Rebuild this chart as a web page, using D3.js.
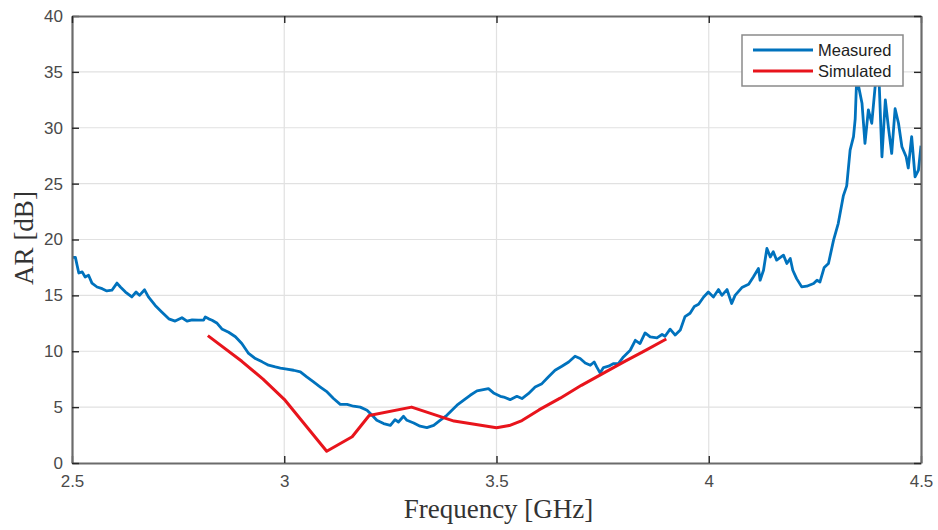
<!DOCTYPE html>
<html>
<head>
<meta charset="utf-8">
<script src="https://cdn.jsdelivr.net/npm/d3@7"></script>
<style>
  html, body { margin: 0; padding: 0; background: #fff; }
  svg { display: block; }
</style>
</head>
<body>
<svg id="chart" width="938" height="530"></svg>
<script>
// Axial ratio of the antenna versus frequency

// Measured AR: frequency (GHz) and AR (dB)
const measuredFreq = [
  2.501, 2.508, 2.512, 2.516, 2.524, 2.531, 2.539, 2.547, 2.559, 2.571,
  2.582, 2.594, 2.606, 2.614, 2.626, 2.641, 2.651, 2.659, 2.671, 2.680,
  2.696, 2.712, 2.728, 2.743, 2.759, 2.771, 2.783, 2.798, 2.810, 2.814,
  2.822, 2.830, 2.842, 2.853, 2.869, 2.885, 2.900, 2.916, 2.932, 2.948,
  2.963, 2.979, 2.991, 3.006, 3.022, 3.038, 3.053, 3.069, 3.085, 3.101,
  3.116, 3.132, 3.148, 3.163, 3.179, 3.195, 3.207, 3.218, 3.234, 3.250,
  3.261, 3.269, 3.281, 3.289, 3.305, 3.320, 3.336, 3.352, 3.367, 3.383,
  3.395, 3.407, 3.422, 3.438, 3.454, 3.469, 3.481, 3.493, 3.509, 3.517,
  3.532, 3.548, 3.560, 3.575, 3.591, 3.607, 3.622, 3.638, 3.654, 3.670,
  3.685, 3.697, 3.709, 3.721, 3.730, 3.736, 3.744, 3.752, 3.764, 3.776,
  3.787, 3.799, 3.815, 3.827, 3.838, 3.850, 3.862, 3.878, 3.890, 3.897,
  3.909, 3.921, 3.933, 3.944, 3.956, 3.966, 3.976, 3.988, 3.999, 4.011,
  4.023, 4.031, 4.043, 4.054, 4.062, 4.078, 4.094, 4.105, 4.117, 4.121,
  4.129, 4.137, 4.145, 4.152, 4.160, 4.176, 4.184, 4.192, 4.198, 4.207,
  4.219, 4.231, 4.247, 4.255, 4.262, 4.272, 4.282, 4.294, 4.305, 4.317,
  4.325, 4.333, 4.341, 4.345, 4.350, 4.353, 4.361, 4.368, 4.376, 4.384,
  4.392, 4.400, 4.408, 4.416, 4.423, 4.431, 4.439, 4.447, 4.455, 4.465,
  4.470, 4.478, 4.486, 4.494, 4.500
];
const measuredAR = [
  18.4, 18.4, 17.7, 17.0, 17.1, 16.65, 16.8, 16.1, 15.75, 15.6,
  15.4, 15.46, 16.1, 15.75, 15.3, 14.86, 15.3, 15.0, 15.5, 14.86,
  14.1, 13.5, 12.9, 12.7, 13.0, 12.7, 12.8, 12.78, 12.78, 13.07,
  12.9, 12.78, 12.5, 12.0, 11.7, 11.3, 10.7, 9.8, 9.35, 9.05,
  8.75, 8.6, 8.5, 8.4, 8.3, 8.15, 7.7, 7.25, 6.8, 6.36,
  5.77, 5.25, 5.25, 5.08, 5.0, 4.72, 4.27, 3.82, 3.53, 3.37,
  3.88, 3.67, 4.18, 3.82, 3.58, 3.29, 3.17, 3.37, 3.82, 4.27,
  4.72, 5.17, 5.61, 6.06, 6.45, 6.57, 6.66, 6.27, 5.97, 5.9,
  5.67, 5.97, 5.77, 6.2, 6.8, 7.1, 7.7, 8.3, 8.66, 9.04,
  9.55, 9.35, 8.95, 8.75, 9.04, 8.6, 8.06, 8.54, 8.66, 8.9,
  8.9, 9.49, 10.09, 10.98, 10.69, 11.64, 11.28, 11.2, 11.5, 11.34,
  11.98, 11.45, 11.9, 13.1, 13.4, 14.0, 14.2, 14.86, 15.3, 14.86,
  15.52, 15.0, 15.52, 14.27, 15.0, 15.7, 16.0, 16.65, 17.4, 16.36,
  17.25, 19.2, 18.44, 18.9, 18.15, 18.6, 17.85, 18.3, 17.25, 16.5,
  15.76, 15.82, 16.06, 16.36, 16.2, 17.5, 17.85, 19.94, 21.43, 23.9,
  24.8, 28.0, 29.2, 30.8, 36.0, 33.7, 32.2, 28.6, 31.6, 30.4,
  33.7, 35.5, 27.4, 32.5, 30.1, 27.7, 31.7, 30.4, 28.3, 27.4,
  26.4, 29.2, 25.6, 26.2, 28.4
];

// Simulated AR: frequency (GHz) and AR (dB)
const simulatedFreq = [2.82, 2.9, 2.95, 3.0, 3.1, 3.16, 3.2, 3.3, 3.4, 3.5, 3.53, 3.56, 3.6, 3.65, 3.7, 3.75, 3.8, 3.85, 3.9];
const simulatedAR   = [11.4, 9.1, 7.5, 5.7, 1.05, 2.35, 4.25, 5.0, 3.75, 3.15, 3.35, 3.8, 4.75, 5.8, 6.95, 8.0, 9.05, 10.05, 11.1];

// Axis ticks and labels
const xTicks = [2.5, 3, 3.5, 4, 4.5];
const yTicks = [0, 5, 10, 15, 20, 25, 30, 35, 40];
const xLabel = "Frequency [GHz]";
const yLabel = "AR [dB]";
const seriesNames = ["Measured", "Simulated"];
const seriesColors = ["#0072BD", "#E8141C"];

const margin = { left: 72, right: 17, top: 16, bottom: 67 };
const W = 938, H = 530;
const iw = W - margin.left - margin.right;
const ih = H - margin.top - margin.bottom;

const svg = d3.select("#chart");
const g = svg.append("g").attr("transform", `translate(${margin.left},${margin.top})`);

const x = d3.scaleLinear().domain([2.5, 4.5]).range([0, iw]);
const y = d3.scaleLinear().domain([0, 40]).range([ih, 0]);

// grid
g.append("g").selectAll("line.gx").data(xTicks.slice(1, -1)).join("line")
  .attr("x1", d => x(d)).attr("x2", d => x(d)).attr("y1", 0).attr("y2", ih)
  .attr("stroke", "#e1e1e1").attr("stroke-width", 1.2);
g.append("g").selectAll("line.gy").data(yTicks.slice(1, -1)).join("line")
  .attr("y1", d => y(d)).attr("y2", d => y(d)).attr("x1", 0).attr("x2", iw)
  .attr("stroke", "#e1e1e1").attr("stroke-width", 1.2);

// clip region for the data lines
svg.append("defs").append("clipPath").attr("id", "plotclip")
  .append("rect").attr("x", 0).attr("y", 0).attr("width", iw).attr("height", ih);

const line = d3.line().x(d => x(d[0])).y(d => y(d[1]));
const measured = measuredFreq.map((f, i) => [f, measuredAR[i]]);
const simulated = simulatedFreq.map((f, i) => [f, simulatedAR[i]]);

const plot = g.append("g").attr("clip-path", "url(#plotclip)");
plot.append("path").datum(measured).attr("d", line)
  .attr("fill", "none").attr("stroke", seriesColors[0]).attr("stroke-width", 2.8)
  .attr("stroke-linejoin", "round");
plot.append("path").datum(simulated).attr("d", line)
  .attr("fill", "none").attr("stroke", seriesColors[1]).attr("stroke-width", 3)
  .attr("stroke-linejoin", "round");

// axes: ticks inward on all four sides
const tickFont = "'Liberation Sans', Arial, sans-serif";
const axB = g.append("g").attr("transform", `translate(0,${ih})`)
  .call(d3.axisBottom(x).tickValues(xTicks).tickFormat(d3.format("")).tickSizeInner(-7).tickSizeOuter(0).tickPadding(12));
const axL = g.append("g")
  .call(d3.axisLeft(y).tickValues(yTicks).tickFormat(d3.format("")).tickSizeInner(-7).tickSizeOuter(0).tickPadding(9));
const axT = g.append("g")
  .call(d3.axisTop(x).tickValues(xTicks).tickFormat("").tickSizeInner(-7).tickSizeOuter(0));
const axR = g.append("g").attr("transform", `translate(${iw},0)`)
  .call(d3.axisRight(y).tickValues(yTicks).tickFormat("").tickSizeInner(-7).tickSizeOuter(0));

[axB, axL, axT, axR].forEach(a => {
  a.select(".domain").attr("stroke", "#6b6b6b").attr("stroke-width", 2.2);
  a.selectAll(".tick line").attr("stroke", "#262626").attr("stroke-width", 1.4);
  a.selectAll(".tick text").attr("fill", "#4a4a4a").attr("font-family", tickFont).attr("font-size", 17);
});

// axis titles
svg.append("text").attr("x", margin.left + iw / 2 + 2).attr("y", 518)
  .attr("text-anchor", "middle").attr("font-family", "'Liberation Serif', 'Times New Roman', serif")
  .attr("font-size", 27).attr("fill", "#333").text(xLabel);
svg.append("text").attr("transform", `translate(33,${238}) rotate(-90)`)
  .attr("text-anchor", "middle").attr("font-family", "'Liberation Serif', 'Times New Roman', serif")
  .attr("font-size", 27).attr("fill", "#333").text(yLabel);

// legend
const lg = svg.append("g").attr("transform", "translate(742,35)");
lg.append("rect").attr("width", 161).attr("height", 51)
  .attr("fill", "#fff").attr("stroke", "#8a8a8a").attr("stroke-width", 1.5);
seriesNames.forEach((name, i) => {
  const cy = 15 + i * 21;
  lg.append("line").attr("x1", 11).attr("x2", 71).attr("y1", cy).attr("y2", cy)
    .attr("stroke", seriesColors[i]).attr("stroke-width", 3);
  lg.append("text").attr("x", 76).attr("y", cy).attr("dy", "0.35em")
    .attr("font-family", tickFont).attr("font-size", 16.5).attr("fill", "#222").text(name);
});
</script>
</body>
</html>
